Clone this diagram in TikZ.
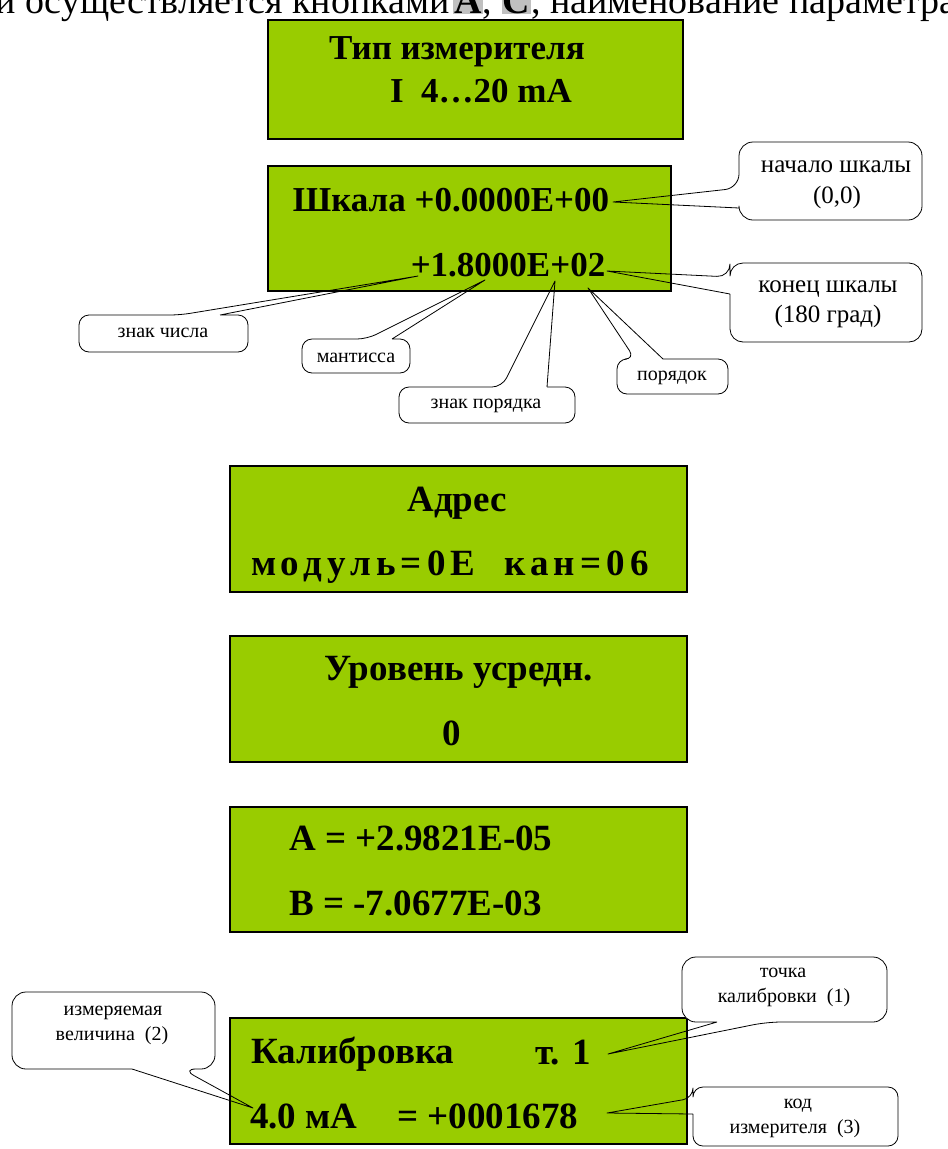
\documentclass[tikz,border=0pt]{standalone}
\usepackage{fontspec}
\setmainfont{Liberation Serif}[BoldFont={Liberation Serif Bold},ItalicFont={Liberation Serif Italic}]
\definecolor{lcdgreen}{HTML}{99CC00}
\definecolor{hlgray}{HTML}{C0C0C0}
\newcommand\keyhl[1]{{\setlength\fboxsep{1pt}\colorbox{hlgray}{\textbf{#1}}}}
% callout with tail on top edge: x1,y1,x2,y2, base a,b (x), tip, radius
\newcommand\bubTop[8]{%
  \fill[white,rounded corners=#8] (#1,#2) rectangle (#3,#4);
  \draw[bubline] (#6,#2) [rounded corners=#8] -- (#3,#2) -- (#3,#4) -- (#1,#4) -- (#1,#2) -- (#5,#2) [sharp corners] -- (#7) -- (#6,#2);}
% tail on bottom edge
\newcommand\bubBot[8]{%
  \fill[white,rounded corners=#8] (#1,#2) rectangle (#3,#4);
  \draw[bubline] (#5,#4) [rounded corners=#8] -- (#1,#4) -- (#1,#2) -- (#3,#2) -- (#3,#4) -- (#6,#4) [sharp corners] -- (#7) -- (#5,#4);}
% tail on left edge: base a,b (y)
\newcommand\bubLeft[8]{%
  \fill[white,rounded corners=#8] (#1,#2) rectangle (#3,#4);
  \draw[bubline] (#1,#6) [rounded corners=#8] -- (#1,#4) -- (#3,#4) -- (#3,#2) -- (#1,#2) -- (#1,#5) [sharp corners] -- (#7) -- (#1,#6);}
\begin{document}
\begin{tikzpicture}[x=1pt,y=-1pt,
  lcd/.style={draw=black,line width=1.5pt,fill=lcdgreen,inner sep=0pt},
  lcdtext/.style={font=\fontsize{35}{40}\selectfont\bfseries,inner sep=0pt,anchor=base},
  lcdbig/.style={font=\fontsize{37}{42}\selectfont\bfseries,inner sep=0pt,anchor=base},
  bubline/.style={draw=black,line width=0.8pt,line join=round},
  bigtext/.style={font=\fontsize{25}{30}\selectfont,inner sep=0pt,anchor=base},
  smalltext/.style={font=\fontsize{20}{24}\selectfont,inner sep=0pt,anchor=base},
  toptext/.style={font=\fontsize{38}{44}\selectfont,inner sep=0pt}]
\useasboundingbox (0,0) rectangle (948,1149);
\clip (0,0) rectangle (948,1149);
\fill[white] (0,0) rectangle (948,1149);

% top partial text line
\node[toptext,anchor=base east] (t1) at (450,13) {и осуществляется кнопками};
\node[toptext,anchor=base west] (t2) at (453,13) {\keyhl{А}, \keyhl{С}, наименование параметра};

% LCD boxes
\node[lcd,minimum width=415pt,minimum height=119pt] (b1) at (475.5,79.5) {};
\node[lcd,minimum width=403pt,minimum height=125pt] (b2) at (469.5,228.5) {};
\node[lcd,minimum width=457pt,minimum height=126pt] (b3) at (458.5,529) {};
\node[lcd,minimum width=457pt,minimum height=126pt] (b4) at (458.5,699) {};
\node[lcd,minimum width=457pt,minimum height=125pt] (b5) at (458.5,869.5) {};
\node[lcd,minimum width=457pt,minimum height=126pt] (b6) at (458.5,1081) {};

% tips
\coordinate (tipA) at (613,202);
\coordinate (tipB) at (607,271);
\coordinate (tipC) at (418,276);
\coordinate (tipD) at (485,280);
\coordinate (tipE) at (555,281);
\coordinate (tipF) at (588,288);
\coordinate (tipG) at (253,1108);
\coordinate (tipH) at (608,1054);
\coordinate (tipI) at (607,1113);

% callouts
\bubLeft{739}{142}{922}{220}{188}{208}{tipA}{14pt}
\bubLeft{730}{263}{922}{342}{277}{294}{tipB}{13pt}
\bubTop{79}{315}{248}{352}{180}{220}{tipC}{10pt}
\bubTop{302}{339}{410}{373}{367}{392}{tipD}{10pt}
\bubTop{399}{387}{575}{423}{502}{547}{tipE}{10pt}
\bubTop{617}{359}{728}{394}{635}{663}{tipF}{10pt}
\bubBot{12}{992}{215}{1069}{132}{182}{tipG}{14pt}
\bubBot{682}{957}{887}{1022}{717}{767}{tipH}{14pt}
\bubLeft{693}{1087}{898}{1146}{1098}{1114}{tipI}{10pt}

% LCD texts
\node[lcdtext] (b1a) at (457,59) {Тип измерителя};
\node[lcdtext] (b1b) at (481,102) {I~~4…20 mA};
\node[lcdtext] (b2a) at (451,211) {Шкала +0.0000E+00};
\node[lcdtext] (b2b) at (508,276) {+1.8000E+02};
\node[lcdbig] (b3a) at (457,511) {Адрес};
\node[lcdbig] (b3b) at (450,575) {\addfontfeature{LetterSpace=14}модуль=0E\ \ кан=06};
\node[lcdbig] (b4a) at (459,680) {Уровень усредн.};
\node[lcdbig] (b4b) at (452,745) {0};
\node[lcdbig,anchor=base west] (b5a) at (289,850) {A = +2.9821E-05};
\node[lcdbig,anchor=base west] (b5b) at (289,915) {B = -7.0677E-03};
\node[lcdbig,anchor=base west] (b6a) at (251,1063) {Калибровка};
\node[lcdbig,anchor=base west] (b6b) at (535,1064) {т. 1};
\node[lcdbig,anchor=base west] (b6c) at (250,1128) {4.0 мА};
\node[lcdbig,anchor=base west] (b6d) at (397,1128) {= +0001678};

% callout texts
\node[bigtext] (c1a) at (836,172) {начало шкалы};
\node[bigtext] (c1b) at (837,203) {(0,0)};
\node[bigtext] (c2a) at (828,292) {конец шкалы};
\node[bigtext] (c2b) at (828,322) {(180 град)};
\node[smalltext] (c3) at (163,337) {знак числа};
\node[smalltext] (c4) at (356,362) {мантисса};
\node[smalltext] (c5) at (486,408) {знак порядка};
\node[smalltext] (c6) at (672,380) {порядок};
\node[smalltext] (c7a) at (113,1015) {измеряемая};
\node[smalltext] (c7b) at (112,1040) {величина\ \ (2)};
\node[smalltext] (c8a) at (783,977) {точка};
\node[smalltext] (c8b) at (784,1002) {калибровки\ \ (1)};
\node[smalltext] (c9a) at (798,1108) {код};
\node[smalltext] (c9b) at (795,1133) {измерителя\ \ (3)};
\end{tikzpicture}
\end{document}
